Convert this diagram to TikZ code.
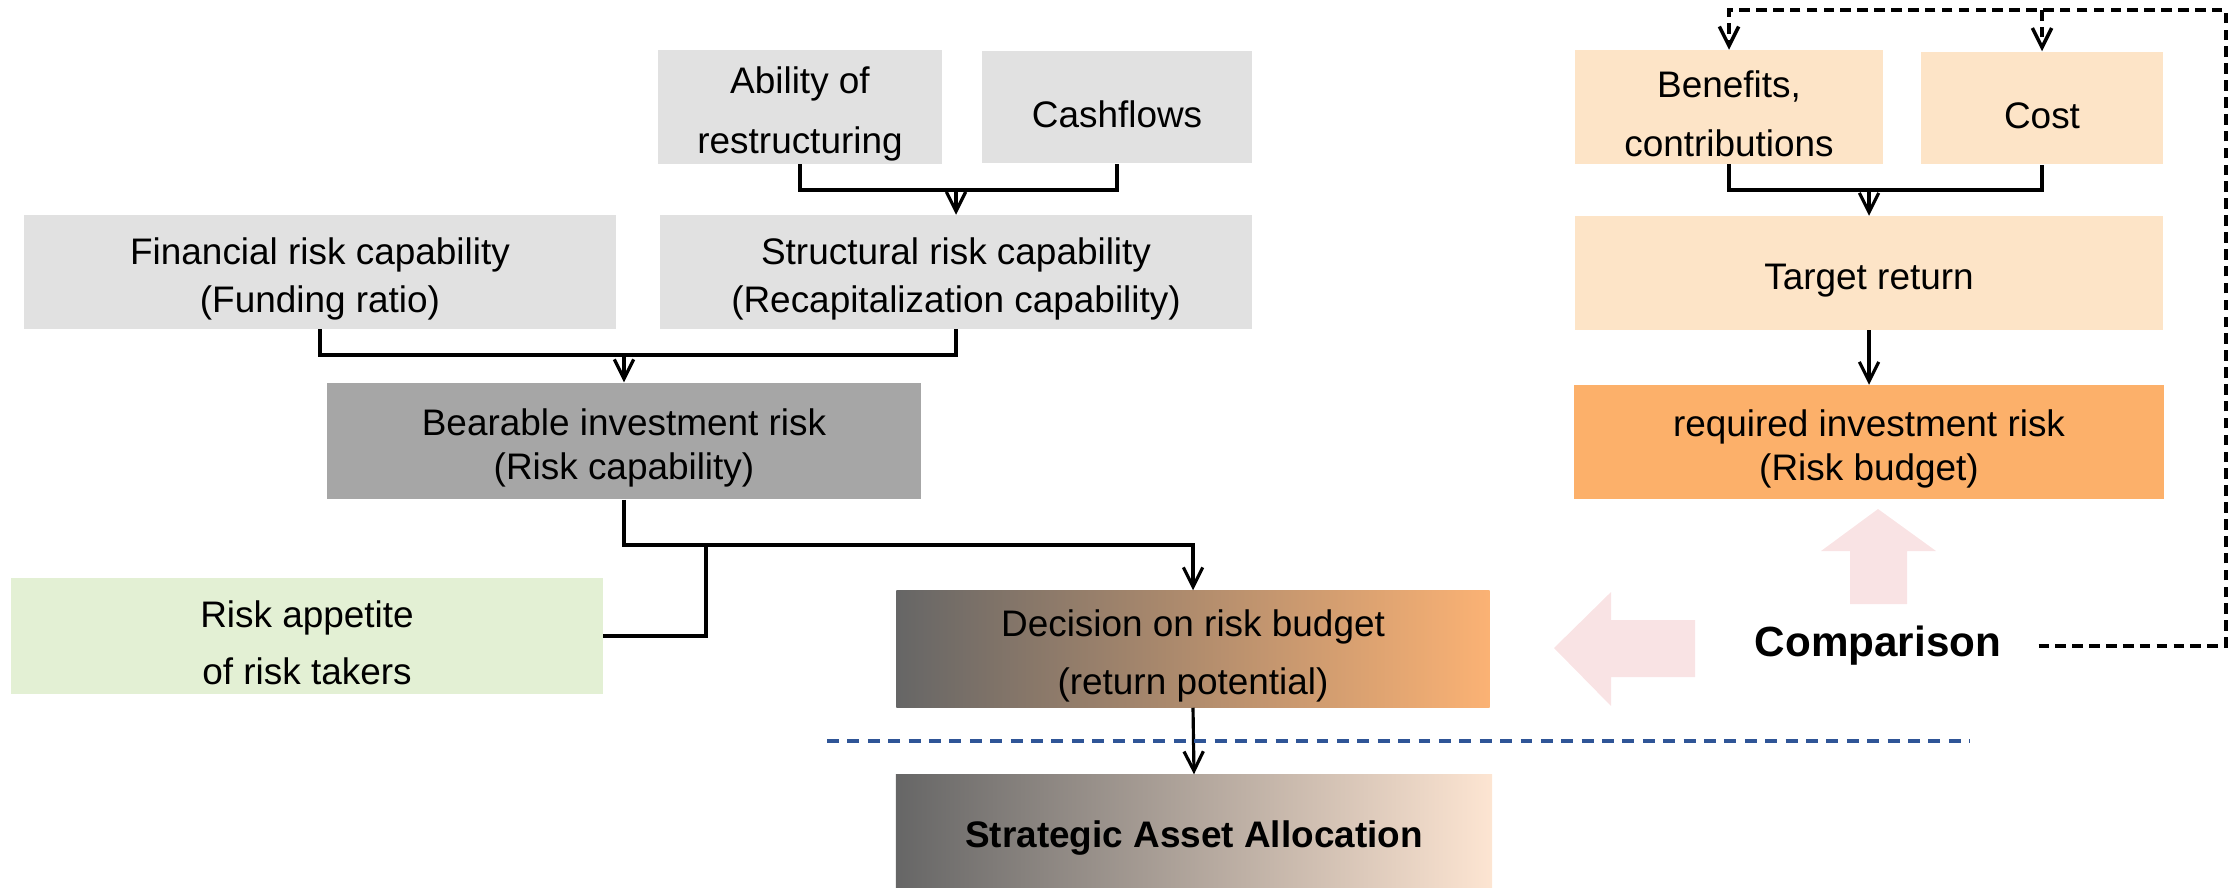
\documentclass[tikz,border=0pt]{standalone}
\usepackage{fontspec}
\setmainfont{Liberation Sans}
\usetikzlibrary{arrows.meta}
\definecolor{greybox}{HTML}{E1E1E1}
\definecolor{darkbox}{HTML}{A6A6A6}
\definecolor{greenbox}{HTML}{E3F0D4}
\definecolor{peachbox}{HTML}{FDE4C7}
\definecolor{orangebox}{HTML}{FCB06A}
\definecolor{pinkarrow}{HTML}{F9E3E4}
\definecolor{shadegrey}{HTML}{666666}
\definecolor{shadeorange}{HTML}{FBB274}
\definecolor{shadepeach}{HTML}{FDE5D2}
\definecolor{sepblue}{HTML}{2F5597}
\newcommand{\upstrut}{\rule{0pt}{11.5pt}}
\begin{document}
\begin{tikzpicture}[
        x=0.01cm, y=-0.01cm,
        font=\fontsize{10.5}{12.5}\selectfont,
        box/.style={inner sep=0pt, align=center, execute at begin node=\upstrut},
        arr/.style={line width=0.9pt, -{Straight Barb[length=5.5pt,width=5.5pt]}},
        link/.style={line width=0.9pt},
        loopback/.style={line width=1pt, dash pattern=on 3pt off 1.8pt},
    ]
        \useasboundingbox (0,0) rectangle (2228,887);
        % left side: risk capability
        \node[box, fill=greybox, minimum width=2.83cm, minimum height=1.13cm] (abil) at (800,107) {\upstrut Ability of\\[4.5pt]restructuring};
        \node[box, fill=greybox, minimum width=2.69cm, minimum height=1.12cm] (cash) at (1117,107) {Cashflows};
        \node[box, fill=greybox, minimum width=5.91cm, minimum height=1.13cm] (fin) at (320,272) {\upstrut Financial risk capability\\[1pt](Funding ratio)};
        \node[box, fill=greybox, minimum width=5.92cm, minimum height=1.13cm] (struct) at (956,272) {\upstrut Structural risk capability\\[1pt](Recapitalization capability)};
        \node[box, fill=darkbox, minimum width=5.94cm, minimum height=1.16cm] (bear) at (624,441) {\upstrut Bearable investment risk\\(Risk capability)};
        \node[box, fill=greenbox, minimum width=5.91cm, minimum height=1.15cm] (appt) at (307,636) {\upstrut Risk appetite\\[3.5pt]of risk takers};
        % right side: risk budget
        \node[box, fill=peachbox, minimum width=3.08cm, minimum height=1.13cm] (ben) at (1729,107) {\upstrut Benefits,\\[4.5pt]contributions};
        \node[box, fill=peachbox, minimum width=2.41cm, minimum height=1.12cm] (cost) at (2042,108) {Cost};
        \node[box, fill=peachbox, minimum width=5.88cm, minimum height=1.13cm] (tgt) at (1869,273) {Target return};
        \node[box, fill=orangebox, minimum width=5.89cm, minimum height=1.13cm] (req) at (1869,442) {\upstrut required investment risk\\(Risk budget)};
        % bottom
        \node[box, left color=shadegrey, right color=shadeorange, minimum width=5.93cm, minimum height=1.16cm] (dec) at (1193,649) {\upstrut Decision on risk budget\\[4pt](return potential)};
        \node[box, left color=shadegrey, right color=shadepeach, minimum width=5.96cm, minimum height=1.12cm] (saa) at (1194,831) {\textbf{Strategic Asset Allocation}};
        \node[font=\fontsize{12}{14}\selectfont\bfseries] (cmp) at (1878,646) {Comparison};

        % big comparison arrows
        \fill[pinkarrow] (1850,604) -- (1850,551) -- (1821,551) -- (1878,509)
            -- (1936,551) -- (1907,551) -- (1907,604) -- cycle;
        \fill[pinkarrow] (1695,620) -- (1611,620) -- (1611,592) -- (1554,648)
            -- (1611,706) -- (1611,677) -- (1695,677) -- cycle;

        % connectors
        \coordinate (j1) at (956,190);
        \coordinate (j2) at (624,355);
        \coordinate (j3) at (706,545);
        \coordinate (j4) at (1869,190);
        \coordinate (fbr) at (2226,10);
        \draw[link] (abil.south) |- (j1) -| (cash.south);
        \draw[arr] (j1) -- (struct.north);
        \draw[link] (fin.south) |- (j2) -| (struct.south);
        \draw[arr] (j2) -- (bear.north);
        \draw[arr] (bear.south) |- (dec.north |- j3) -- (dec.north);
        \draw[link] (appt.east) -| (j3);
        \draw[arr] (dec.south) -- (saa.north);
        \draw[link] (ben.south) |- (j4) -| (cost.south);
        \draw[arr] (j4) -- (tgt.north);
        \draw[arr] (tgt.south) -- (req.north);
        \draw[loopback, -{Straight Barb[length=5.5pt,width=5.5pt]}]
            ([xshift=0.25cm]cmp.east) -| (fbr) -| (ben.north);
        \draw[loopback, -{Straight Barb[length=5.5pt,width=5.5pt]}] (cost.north |- fbr) -- (cost.north);

        % separator
        \draw[sepblue, line width=1pt, dash pattern=on 3.4pt off 2.4pt] (827,741) -- (1970,741);
    \end{tikzpicture}
\end{document}
